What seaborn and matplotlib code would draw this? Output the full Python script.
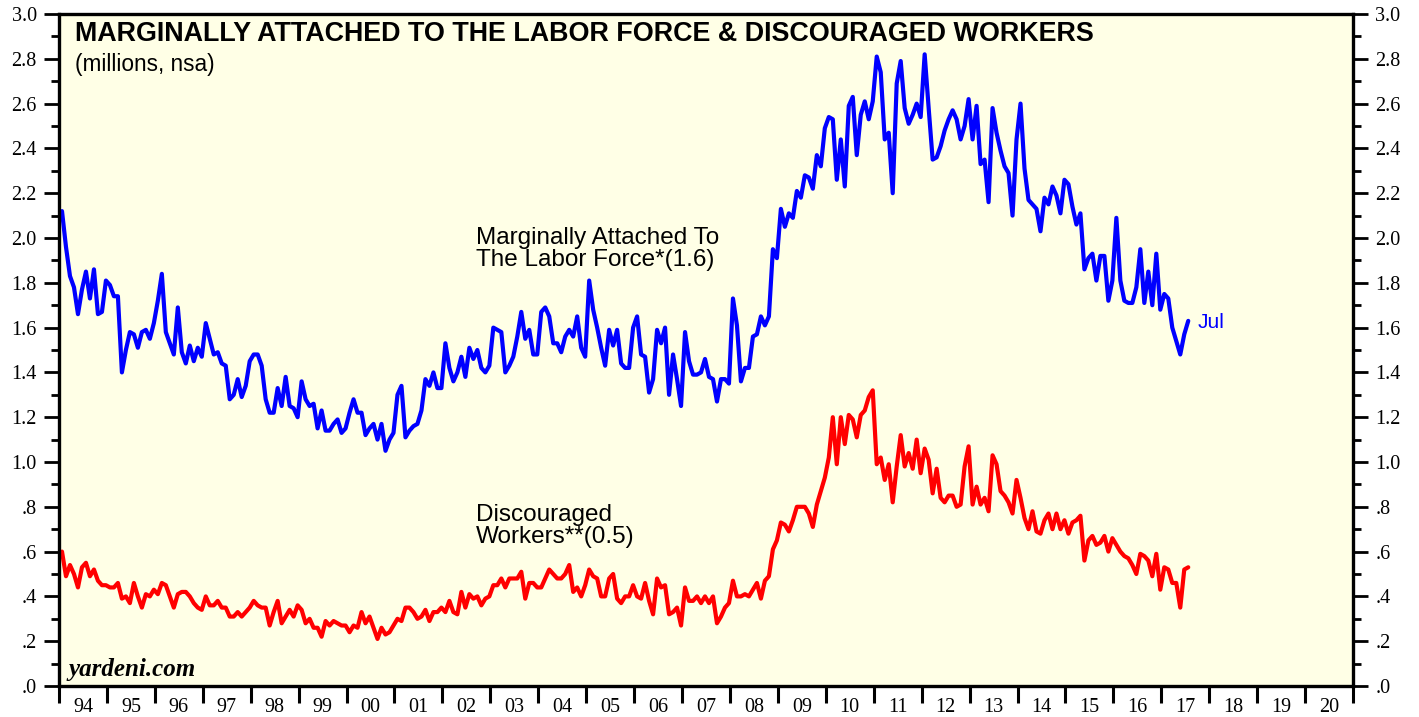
import numpy as np
import pandas as pd
import matplotlib
matplotlib.use("Agg")
import matplotlib.pyplot as plt
import seaborn as sns

# monthly data, Jan 1994 - Jul 2017 (millions, nsa)
marginally_attached = [
    2.12, 1.96, 1.83, 1.78, 1.66, 1.77, 1.85, 1.73, 1.86, 1.66, 1.67, 1.81,  # 94
    1.79, 1.74, 1.74, 1.40, 1.50, 1.58, 1.57, 1.51, 1.58, 1.59, 1.55, 1.62,  # 95
    1.72, 1.84, 1.58, 1.53, 1.48, 1.69, 1.49, 1.44, 1.52, 1.45, 1.51, 1.47,  # 96
    1.62, 1.55, 1.48, 1.49, 1.44, 1.43, 1.28, 1.30, 1.37, 1.29, 1.34, 1.45,  # 97
    1.48, 1.48, 1.43, 1.28, 1.22, 1.22, 1.33, 1.25, 1.38, 1.25, 1.24, 1.20,  # 98
    1.36, 1.28, 1.25, 1.26, 1.15, 1.23, 1.14, 1.14, 1.17, 1.19, 1.13, 1.15,  # 99
    1.22, 1.28, 1.22, 1.22, 1.12, 1.15, 1.17, 1.10, 1.17, 1.05, 1.10, 1.13,  # 00
    1.30, 1.34, 1.11, 1.14, 1.16, 1.17, 1.23, 1.37, 1.34, 1.40, 1.33, 1.33,  # 01
    1.53, 1.42, 1.36, 1.40, 1.47, 1.38, 1.51, 1.46, 1.50, 1.42, 1.40, 1.43,  # 02
    1.60, 1.59, 1.58, 1.40, 1.43, 1.47, 1.56, 1.67, 1.55, 1.59, 1.48, 1.48,  # 03
    1.67, 1.69, 1.65, 1.53, 1.53, 1.49, 1.56, 1.59, 1.56, 1.65, 1.51, 1.47,  # 04
    1.81, 1.68, 1.60, 1.51, 1.43, 1.59, 1.52, 1.59, 1.44, 1.42, 1.42, 1.60,  # 05
    1.65, 1.48, 1.47, 1.31, 1.37, 1.59, 1.53, 1.60, 1.30, 1.48, 1.37, 1.25,  # 06
    1.58, 1.45, 1.39, 1.39, 1.40, 1.46, 1.38, 1.37, 1.27, 1.37, 1.37, 1.35,  # 07
    1.73, 1.61, 1.36, 1.42, 1.42, 1.56, 1.57, 1.65, 1.61, 1.65, 1.95, 1.91,  # 08
    2.13, 2.05, 2.11, 2.09, 2.21, 2.18, 2.28, 2.27, 2.22, 2.37, 2.32, 2.49,  # 09
    2.54, 2.53, 2.26, 2.44, 2.23, 2.59, 2.63, 2.37, 2.55, 2.61, 2.53, 2.61,  # 10
    2.81, 2.74, 2.44, 2.47, 2.20, 2.69, 2.79, 2.58, 2.51, 2.55, 2.60, 2.54,  # 11
    2.82, 2.58, 2.35, 2.36, 2.41, 2.48, 2.53, 2.57, 2.53, 2.44, 2.50, 2.62,  # 12
    2.44, 2.59, 2.33, 2.35, 2.16, 2.58, 2.47, 2.39, 2.32, 2.29, 2.10, 2.44,  # 13
    2.60, 2.31, 2.17, 2.15, 2.13, 2.03, 2.18, 2.15, 2.23, 2.19, 2.11, 2.26,  # 14
    2.24, 2.14, 2.06, 2.11, 1.86, 1.91, 1.93, 1.81, 1.92, 1.92, 1.72, 1.81,  # 15
    2.09, 1.81, 1.72, 1.71, 1.71, 1.78, 1.95, 1.71, 1.85, 1.70, 1.93, 1.68,  # 16
    1.75, 1.73, 1.60, 1.54, 1.48, 1.57, 1.63,                                # 17
]

discouraged = [
    0.60, 0.49, 0.54, 0.50, 0.44, 0.53, 0.55, 0.49, 0.52, 0.47, 0.45, 0.45,  # 94
    0.44, 0.44, 0.46, 0.39, 0.40, 0.37, 0.46, 0.40, 0.35, 0.41, 0.40, 0.43,  # 95
    0.41, 0.46, 0.45, 0.40, 0.35, 0.41, 0.42, 0.42, 0.40, 0.37, 0.35, 0.34,  # 96
    0.40, 0.36, 0.36, 0.38, 0.35, 0.35, 0.31, 0.31, 0.33, 0.31, 0.33, 0.35,  # 97
    0.38, 0.36, 0.35, 0.35, 0.27, 0.33, 0.38, 0.28, 0.31, 0.34, 0.31, 0.36,  # 98
    0.34, 0.28, 0.30, 0.26, 0.26, 0.22, 0.29, 0.27, 0.29, 0.28, 0.27, 0.27,  # 99
    0.24, 0.27, 0.26, 0.33, 0.28, 0.31, 0.26, 0.21, 0.26, 0.23, 0.24, 0.27,  # 00
    0.30, 0.29, 0.35, 0.35, 0.33, 0.30, 0.31, 0.34, 0.29, 0.33, 0.33, 0.35,  # 01
    0.33, 0.38, 0.33, 0.32, 0.42, 0.35, 0.41, 0.39, 0.40, 0.36, 0.39, 0.40,  # 02
    0.45, 0.45, 0.48, 0.44, 0.48, 0.48, 0.48, 0.51, 0.39, 0.46, 0.46, 0.44,  # 03
    0.44, 0.48, 0.52, 0.50, 0.48, 0.48, 0.50, 0.54, 0.42, 0.44, 0.40, 0.45,  # 04
    0.52, 0.49, 0.48, 0.40, 0.40, 0.48, 0.50, 0.39, 0.37, 0.40, 0.40, 0.45,  # 05
    0.40, 0.39, 0.46, 0.38, 0.32, 0.48, 0.44, 0.45, 0.32, 0.33, 0.35, 0.27,  # 06
    0.44, 0.38, 0.38, 0.40, 0.37, 0.40, 0.37, 0.40, 0.28, 0.31, 0.35, 0.37,  # 07
    0.47, 0.40, 0.40, 0.41, 0.40, 0.43, 0.46, 0.39, 0.47, 0.49, 0.61, 0.65,  # 08
    0.73, 0.72, 0.69, 0.74, 0.80, 0.80, 0.80, 0.77, 0.71, 0.81, 0.87, 0.93,  # 09
    1.02, 1.20, 0.99, 1.20, 1.08, 1.21, 1.19, 1.11, 1.21, 1.23, 1.29, 1.32,  # 10
    0.99, 1.02, 0.92, 0.99, 0.82, 0.98, 1.12, 0.98, 1.04, 0.97, 1.10, 0.95,  # 11
    1.06, 1.01, 0.86, 0.97, 0.84, 0.82, 0.85, 0.85, 0.80, 0.81, 0.98, 1.07,  # 12
    0.81, 0.89, 0.81, 0.84, 0.78, 1.03, 0.99, 0.87, 0.85, 0.82, 0.77, 0.92,  # 13
    0.84, 0.75, 0.70, 0.78, 0.69, 0.68, 0.74, 0.77, 0.70, 0.77, 0.70, 0.74,  # 14
    0.68, 0.73, 0.74, 0.76, 0.56, 0.65, 0.67, 0.63, 0.64, 0.67, 0.60, 0.66,  # 15
    0.63, 0.60, 0.58, 0.57, 0.54, 0.50, 0.59, 0.58, 0.56, 0.49, 0.59, 0.43,  # 16
    0.53, 0.52, 0.46, 0.46, 0.35, 0.52, 0.53,                                # 17
]

year_labels = ["94", "95", "96", "97", "98", "99", "00", "01", "02", "03", "04",
               "05", "06", "07", "08", "09", "10", "11", "12", "13", "14", "15",
               "16", "17", "18", "19", "20"]

# decimal year for each month
dates = pd.date_range("1994-01-01", periods=len(marginally_attached), freq="MS")
t = dates.year + (dates.month - 1 + 0.75) / 12

df = pd.DataFrame({
    "t": np.concatenate([t, t]),
    "value": marginally_attached + discouraged,
    "series": ["marg"] * len(t) + ["disc"] * len(t),
})

sns.set_style("ticks")
plt.rcParams["font.family"] = ["Liberation Sans", "DejaVu Sans"]
plt.rcParams["text.color"] = "black"
plt.rcParams["xtick.color"] = "black"
plt.rcParams["ytick.color"] = "black"

fig = plt.figure(figsize=(14.19, 7.17), dpi=100)
ax = fig.add_axes([59 / 1419, 31 / 717, 1294 / 1419, 672 / 717])
ax.set_facecolor("#FFFFE6")

sns.lineplot(data=df, x="t", y="value", hue="series",
             palette={"marg": "#0000FF", "disc": "#FF0000"},
             linewidth=3.0, legend=False, ax=ax)

ax.set_xlim(1994, 2021)
ax.set_ylim(0, 3.0)
ax.set_xlabel("")
ax.set_ylabel("")

for s in ax.spines.values():
    s.set_visible(True)
    s.set_linewidth(2.4)
    s.set_color("black")

# y axis: both sides
major = np.round(np.arange(0, 3.01, 0.2), 1)
ylabels = [f"{v:.1f}" if v >= 1 else f"{v:.1f}"[1:] for v in major]
ax.set_yticks(major)
ax.set_yticklabels(ylabels)
ax.set_yticks(np.arange(0.1, 3.0, 0.2), minor=True)
ax.tick_params(axis="y", which="both", left=True, right=True, labelleft=True,
               labelright=True, direction="out", width=2, labelsize=14.5,
               labelfontfamily="Liberation Serif", pad=5)
ax.tick_params(axis="y", which="major", length=11)
ax.tick_params(axis="y", which="minor", length=6)

# x axis: ticks at year boundaries, labels centred within years
ax.set_xticks(np.arange(1994, 2022))
ax.set_xticklabels([])
ax.set_xticks(np.arange(1994, 2021) + 0.5, minor=True)
ax.set_xticklabels(year_labels, minor=True)
ax.tick_params(axis="x", which="major", direction="out", length=12, width=2.2)
ax.tick_params(axis="x", which="minor", length=0, pad=9, labelsize=14.5,
               labelfontfamily="Liberation Serif")

# texts
ax.text(0.012, 0.97, "MARGINALLY ATTACHED TO THE LABOR FORCE & DISCOURAGED WORKERS",
        transform=ax.transAxes, fontsize=19.4, fontweight="bold", va="center")
ax.text(0.012, 0.925, "(millions, nsa)", transform=ax.transAxes, fontsize=16.3,
        va="center")
ax.text(2002.7, 1.95, "Marginally Attached To\nThe Labor Force*(1.6)",
        fontsize=17.5, va="center", linespacing=1.03)
ax.text(2002.7, 0.715, "Discouraged\nWorkers**(0.5)", fontsize=17.5, va="center",
        linespacing=1.03)
ax.text(2017.75, 1.625, "Jul", fontsize=15, color="#0000FF", va="center")
ax.text(0.007, 0.025, "yardeni.com", transform=ax.transAxes, fontsize=18,
        fontweight="bold", fontstyle="italic", family="Liberation Serif",
        va="center")

fig.savefig("out.png", dpi=100, facecolor="white")
